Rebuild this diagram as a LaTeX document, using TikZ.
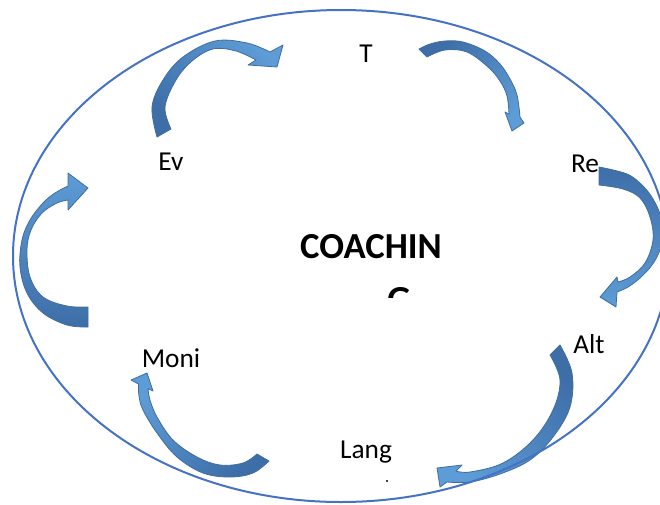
\documentclass[tikz,border=0pt]{standalone}
\usepackage{fontspec}
\setmainfont{Carlito}
\definecolor{ringblue}{RGB}{68,114,196}
\definecolor{arrowdark}{RGB}{62,110,168}
\definecolor{arrowlight}{RGB}{93,156,214}
\definecolor{arrowline}{RGB}{65,110,158}
\begin{document}
\begin{tikzpicture}[x=0.75pt,y=-0.75pt,
  ring/.style={draw=ringblue,line width=1.5pt},
  cyclearrow/.style={top color=arrowlight,bottom color=arrowdark,
    draw=arrowline,line width=0.6pt,line join=round},
  lbl/.style={font=\fontsize{20.5}{24}\selectfont,inner sep=0pt,anchor=base},
  titletext/.style={font=\bfseries\fontsize{27.5}{33}\selectfont,inner sep=0pt,anchor=base},
  edge/.style={smooth,tension=0.6}]
\useasboundingbox (0,0) rectangle (660,504);
\clip (0,0) rectangle (660,504);

% ---- curved arrows of the cycle ----
% Ev -> T
\path[cyclearrow,shading angle=-45]
  plot[edge] coordinates {(157,137) (152,107) (163,80) (183,57) (215,41) (247,43) (270,52)}
  -- (283,45) -- (277,67) -- (248,65)
  -- plot[edge] coordinates {(256,60) (236,51) (213,49) (192,61) (176,80) (165,107) (171,129)}
  -- cycle;
% T -> Re
\path[cyclearrow,shading angle=-135]
  plot[edge] coordinates {(419,49) (430,44) (445,41) (463,42) (485,51) (500,64) (510,79) (517,95) (520,117)}
  -- (524,123) -- (512,131) -- (505,112)
  -- plot[edge] coordinates {(509,114) (507,96) (500,81) (488,67) (467,52) (445,50) (427,57)}
  -- cycle;
% Re -> Alt
\path[cyclearrow,shading angle=180]
  plot[edge] coordinates {(599,167) (627,174) (643,186) (653,199) (660,214) (664,232) (660,250) (652,265) (640,278) (628,287) (617,292)}
  -- (616,307) -- (600,297) -- (617,277)
  -- plot[edge] coordinates {(618,282) (630,277) (645,263) (653,240) (650,217) (640,198) (623,189) (599,185)}
  -- cycle;
% Alt -> Lang
\path[cyclearrow,shading angle=135]
  plot[edge] coordinates {(560,345) (572,373) (570,407) (553,437) (530,460) (500,474) (470,482) (447,482)}
  -- (440,487) -- (437,468) -- (462,465)
  -- plot[edge] coordinates {(456,471) (470,472) (503,463) (533,440) (553,410) (560,380) (550,355)}
  -- cycle;
% Lang -> Moni
\path[cyclearrow,shading angle=45]
  plot[edge] coordinates {(269,461) (253,473) (230,477) (203,473) (177,457) (157,433) (143,410) (139,396) (138.5,384)}
  -- (131,380) -- (147,373) -- (153,391)
  -- plot[edge] coordinates {(148,388.5) (150,400) (157,417) (173,440) (197,457) (220,465) (243,463) (257,454)}
  -- cycle;
% Moni -> Ev
\path[cyclearrow,shading angle=0]
  plot[edge] coordinates {(88,327) (67,325) (43,313) (27,293) (20,267) (22,240) (30,220) (43,203) (55,193) (68,186)}
  -- (68,173) -- (88,188) -- (68,210)
  -- plot[edge] coordinates {(68,200) (57,203) (42,213) (31,230) (27,250) (30,277) (43,297) (67,306) (88,307)}
  -- cycle;

% ---- outer ring ----
\draw[ring] (341,256) ellipse [x radius=328, y radius=246];

% ---- stage labels ----
\node[lbl] (t)    at (366,62)  {T};
\node[lbl] (re)   at (585,172) {Re};
\node[lbl] (alt)  at (589,353) {Alt};
\node[lbl] (lang) at (366,458) {Lang};
\node[lbl] (moni) at (171,367) {Moni};
\node[lbl] (ev)   at (171,170) {Ev};

% ---- centre title, second line cut by its text box ----
\node[titletext] (coach) at (371,258) {COACHIN};
\begin{scope}
  \clip (370,270) rectangle (430,297);
  \node[titletext] (coachend) at (399,311.5) {G};
\end{scope}
\fill (387,481) circle (1.2);
\end{tikzpicture}
\end{document}
